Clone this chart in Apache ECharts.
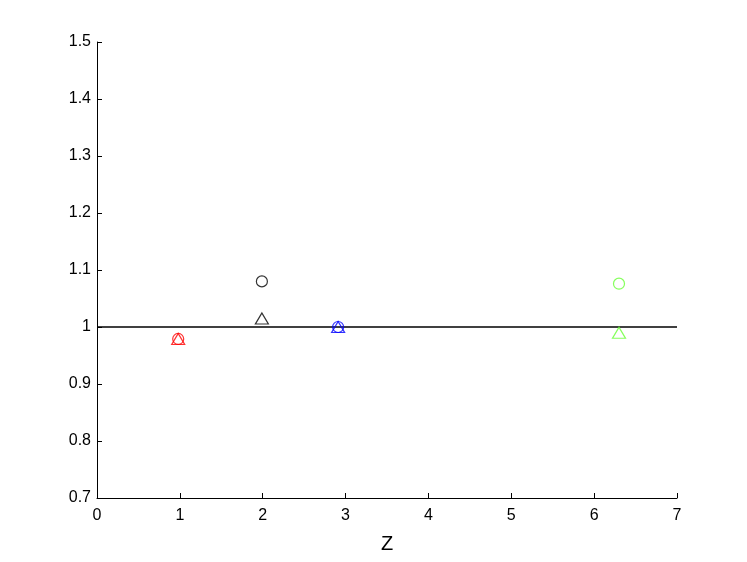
<!DOCTYPE html>
<html>
<head>
<meta charset="utf-8">
<script src="https://cdn.jsdelivr.net/npm/echarts@6/dist/echarts.min.js"></script>
<style>
  html, body { margin: 0; padding: 0; background: #fff; }
  #chart { width: 747px; height: 562px; }
</style>
</head>
<body>
<div id="chart"></div>
<script>
// 数据
const groupNames = ['red', 'black', 'blue', 'green']
const groupColors = ['#ff0000', '#000000', '#0000ff', '#66ff33']
const zValues = [0.98, 1.99, 2.91, 6.30]
const circleValues = [0.979, 1.080, 1.000, 1.076]
const triangleValues = [0.979, 1.015, 1.000, 0.990]
const refLine = [[0, 1], [7, 1]]
const xTicks = [0, 1, 2, 3, 4, 5, 6, 7]
const yTicks = [0.7, 0.8, 0.9, 1, 1.1, 1.2, 1.3, 1.4, 1.5]

const chart = echarts.init(document.getElementById('chart'))

const seriesArr = [{
  type: 'line',
  data: refLine,
  symbol: 'none',
  lineStyle: { color: '#000', width: 1.4 },
  silent: true,
  z: 1
}]
groupNames.forEach((name, i) => {
  seriesArr.push({
    name: name + ' circle',
    type: 'scatter',
    data: [[zValues[i], circleValues[i]]],
    symbol: 'circle',
    symbolSize: 11,
    itemStyle: { color: 'transparent', borderColor: groupColors[i], borderWidth: 1.2 },
    z: 3
  })
  seriesArr.push({
    name: name + ' triangle',
    type: 'scatter',
    data: [[zValues[i], triangleValues[i]]],
    symbol: 'triangle',
    symbolSize: [13, 11],
    itemStyle: { color: 'transparent', borderColor: groupColors[i], borderWidth: 1.2 },
    z: 3
  })
})

const axisText = { color: '#000', fontSize: 16, fontFamily: 'Liberation Sans, Arial, sans-serif' }

chart.setOption({
  animation: false,
  grid: { left: 97, right: 70, top: 42, bottom: 64 },
  xAxis: {
    type: 'value',
    min: xTicks[0],
    max: xTicks[xTicks.length - 1],
    interval: 1,
    name: 'Z',
    nameLocation: 'middle',
    nameGap: 36,
    nameTextStyle: { color: '#000', fontSize: 20, fontFamily: 'Liberation Sans, Arial, sans-serif' },
    axisLine: { show: true, lineStyle: { color: '#000', width: 1 } },
    axisTick: { show: true, inside: true, length: 5, lineStyle: { color: '#000' } },
    axisLabel: Object.assign({ margin: 10 }, axisText),
    splitLine: { show: false }
  },
  yAxis: {
    type: 'value',
    min: yTicks[0],
    max: yTicks[yTicks.length - 1],
    interval: 0.1,
    axisLine: { show: true, lineStyle: { color: '#000', width: 1 } },
    axisTick: { show: true, inside: true, length: 5, lineStyle: { color: '#000' } },
    axisLabel: Object.assign({
      margin: 6,
      formatter: v => String(Math.round(v * 10) / 10)
    }, axisText),
    splitLine: { show: false }
  },
  series: seriesArr
})
</script>
</body>
</html>
